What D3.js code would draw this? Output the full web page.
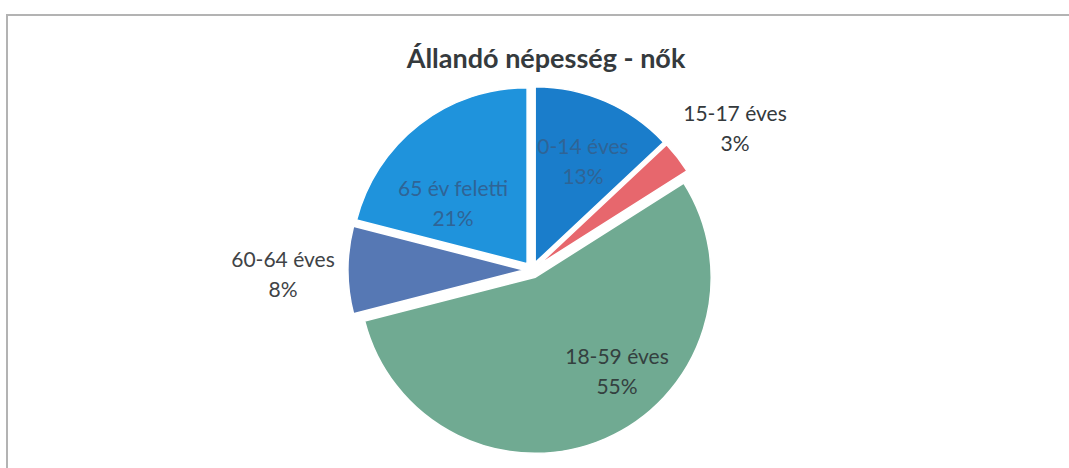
<!DOCTYPE html>
<html>
<head>
<meta charset="utf-8">
<script src="https://cdn.jsdelivr.net/npm/d3@7"></script>
<style>
  body { margin: 0; background: #fff; }
  svg { display: block; }
</style>
</head>
<body>
<svg id="chart"></svg>
<script>
// age groups of the permanent female population
const categories = ["0-14 éves", "15-17 éves", "18-59 éves", "60-64 éves", "65 év feletti"];
const shares = [13, 3, 55, 8, 21];
const sliceColors = ["#1a7dcb", "#e7676d", "#70aa92", "#5678b4", "#1f93dc"];
const title = "Állandó népesség - nők";

let canvas = {"width": 1069, "height": 468, "cx": 532, "cy": 270, "r": 176, "explode": 8};

let svg = d3.select("#chart")
  .attr("width", canvas.width)
  .attr("height", canvas.height);

// frame of the chart area (cut off on the right and bottom in the scan)
svg.append("path")
  .attr("d", `M7,${canvas.height} L7,15 L${canvas.width},15`)
  .attr("fill", "none")
  .attr("stroke", "#b3b3b3")
  .attr("stroke-width", 2);

svg.append("text")
  .attr("x", 546)
  .attr("y", 68)
  .attr("text-anchor", "middle")
  .attr("font-family", "Lato, 'Open Sans', sans-serif")
  .attr("font-weight", "bold")
  .attr("font-size", "27px")
  .attr("fill", "#353a3d")
  .text(title);

let data = categories.map((c, i) => ({"name": c, "value": shares[i], "color": sliceColors[i]}));

let pie = d3.pie()
  .sort(null)
  .value(d => d.value);

let arc = d3.arc()
  .innerRadius(0)
  .outerRadius(canvas.r);

let arcs = pie(data);

let g = svg.append("g")
  .attr("transform", `translate(${canvas.cx}, ${canvas.cy})`);

// every slice is pulled out a little along its middle angle
g.selectAll(".slice")
  .data(arcs)
  .join("path")
  .attr("class", "slice")
  .attr("transform", d => {
    let mid = (d.startAngle + d.endAngle) / 2;
    return `translate(${Math.sin(mid) * canvas.explode}, ${-Math.cos(mid) * canvas.explode})`;
  })
  .attr("d", arc)
  .attr("fill", d => d.data.color)
  .attr("stroke", "#fff")
  .attr("stroke-width", 1.5);

// label positions, in pixels relative to the page
let labelPos = {
  "0-14 éves": [583, 154, "#2f6496"],
  "15-17 éves": [735, 121, "#34393c"],
  "18-59 éves": [617, 364, "#34403f"],
  "60-64 éves": [283, 267, "#404346"],
  "65 év feletti": [453, 196, "#2f6496"]
};

let labels = svg.selectAll(".label")
  .data(arcs)
  .join("text")
  .attr("class", "label")
  .attr("text-anchor", "middle")
  .attr("font-family", "Lato, 'Open Sans', sans-serif")
  .attr("font-size", "21px")
  .attr("fill", d => labelPos[d.data.name][2]);

labels.append("tspan")
  .attr("x", d => labelPos[d.data.name][0])
  .attr("y", d => labelPos[d.data.name][1])
  .text(d => d.data.name);

labels.append("tspan")
  .attr("x", d => labelPos[d.data.name][0])
  .attr("dy", 30)
  .text(d => d.data.value + "%");
</script>
</body>
</html>
